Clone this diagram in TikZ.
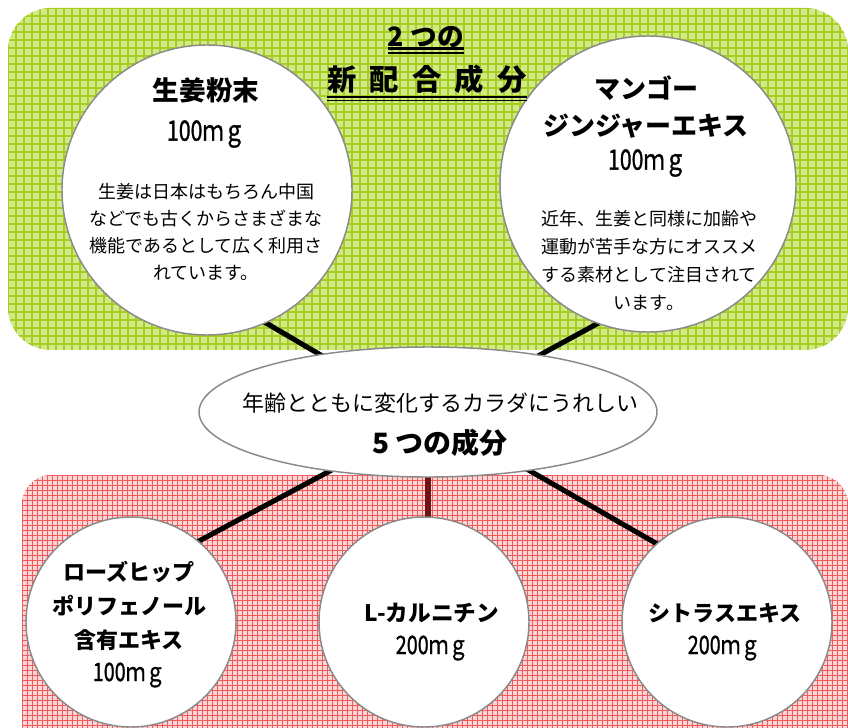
\documentclass[tikz,border=0pt]{standalone}
\usepackage{fontspec}
\setmainfont{Noto Sans CJK JP}
\newfontfamily\jpmid[FakeBold=1.3]{Noto Sans CJK JP}
\usepackage{graphicx}
\usetikzlibrary{shapes.geometric}
\pgfdeclarelayer{bg}
\pgfdeclarelayer{lines}
\pgfsetlayers{bg,lines,main}
\definecolor{grbase}{HTML}{D2E98A}
\definecolor{grline}{HTML}{A6CE22}
\definecolor{rdbase}{HTML}{FAD6D6}
\definecolor{rdline}{HTML}{F05A5A}
\definecolor{rimgray}{HTML}{8A8A8A}
\definecolor{darkred}{HTML}{6E1414}
\begin{document}
\begin{tikzpicture}[x=0.75pt,y=-0.75pt,
  bubble/.style={circle,draw=rimgray,line width=1.1pt,fill=white,inner sep=0pt},
  oval/.style={ellipse,draw=rimgray,line width=1.1pt,fill=white,inner sep=0pt},
  conn/.style={line width=3.8pt,black,shorten <=-4pt,shorten >=-4pt},
  txt/.style={inner sep=0pt,align=center,text=black},
  amount/.style={txt,font=\jpmid\fontsize{21}{21}\selectfont},
  uthick/.style={line width=2.2pt,black},
  uthin/.style={line width=1.2pt,black}]
\useasboundingbox (0,0) rectangle (848,727);

% shapes
\node[bubble,minimum size=217.5pt] (lc) at (207,190) {};
\node[bubble,minimum size=222pt] (rc) at (648,184) {};
\node[oval,minimum width=343.5pt,minimum height=97.5pt] (el) at (428,412) {};
\node[bubble,minimum size=157.5pt] (bl) at (131,622) {};
\node[bubble,minimum size=157.5pt] (bm) at (424,622) {};
\node[bubble,minimum size=157.5pt] (br) at (727,622) {};

% backgrounds
\begin{pgfonlayer}{bg}
  \begin{scope}
    \clip[rounded corners=32pt] (8,8) rectangle (848,350);
    \fill[grbase] (8,8) rectangle (848,350);
    \foreach \i in {0,...,105} \draw[grline,line width=0.85pt] (8+\i*8,8) -- (8+\i*8,350);
    \foreach \j in {0,...,43} \draw[grline,line width=0.85pt] (8,8+\j*8) -- (848,8+\j*8);
  \end{scope}
  \begin{scope}
    \clip (0,0) rectangle (848,727);
    \clip[rounded corners=22pt] (22,475) rectangle (848,790);
    \fill[rdbase] (22,475) rectangle (848,790);
    \foreach \i in {0,...,166} \draw[rdline,line width=0.7pt] (22+\i*5,475) -- (22+\i*5,790);
    \foreach \j in {0,...,63} \draw[rdline,line width=0.7pt] (22,475+\j*5) -- (848,475+\j*5);
  \end{scope}
\end{pgfonlayer}

% connectors
\begin{pgfonlayer}{lines}
  \draw[conn] (lc.-66) -- (el.152);
  \draw[conn] (rc.-110) -- (el.27);
  \draw[conn] (el.-149) -- (bl.50);
  \draw[conn] (el.-30) -- (br.132);
  \draw[conn,darkred] (el.south) -- (el.south |- bm.north);
\end{pgfonlayer}

% title
\node[txt,font=\bfseries\fontsize{20}{20}\selectfont] (t1) at (426,37) {2\hspace{5pt}つの};
\node[txt,font=\bfseries\fontsize{22}{22}\selectfont] (t2) at (427,79) {新\hspace{10pt}配\hspace{10pt}合\hspace{10pt}成\hspace{10pt}分};
\draw[uthick] ([yshift=-0.3pt]t1.south west) -- ([yshift=-0.3pt]t1.south east);
\draw[uthin] ([yshift=-3.8pt]t1.south west) -- ([yshift=-3.8pt]t1.south east);
\draw[uthick] ([yshift=-2.5pt]t2.south west) -- ([yshift=-2.5pt]t2.south east);
\draw[uthin] ([yshift=-5.2pt]t2.south west) -- ([yshift=-5.2pt]t2.south east);

% left top circle
\node[txt,font=\bfseries\fontsize{20}{20}\selectfont] (lt1) at (206,90) {生姜粉末};
\node[amount] (lt2) at (206,134) {\scalebox{0.76}[1]{100ｍｇ}};
\node[txt,font=\fontsize{13.5}{20.25}\selectfont] (lt3) at (206,232) {生姜は日本はもちろん中国\\などでも古くからさまざまな\\機能であるとして広く利用さ\\れています。};

% right top circle
\node[txt,font=\bfseries\fontsize{19.5}{27.75}\selectfont] (rt1) at (646,107.5) {マンゴー\\ジンジャーエキス};
\node[amount] (rt2) at (647,163) {\scalebox{0.76}[1]{100ｍｇ}};
\node[txt,font=\fontsize{13.5}{21}\selectfont] (rt3) at (649,260) {近年、生姜と同様に加齢や\\運動が苦手な方にオススメ\\する素材として注目されて\\います。};

% ellipse
\node[txt,font=\fontsize{16.5}{16.5}\selectfont] (e1) at (440,403) {年齢とともに変化するカラダにうれしい};
\node[txt,font=\bfseries\fontsize{21}{21}\selectfont] (e2) at (440,443) {5\hspace{4pt}つの成分};

% bottom circles
\node[txt,font=\bfseries\fontsize{16.5}{25.5}\selectfont] (b1) at (129,606) {ローズヒップ\\ポリフェノール\\含有エキス};
\node[amount,font=\jpmid\fontsize{19}{19}\selectfont] (b2) at (129,675) {\scalebox{0.78}[1]{100ｍｇ}};
\node[txt,font=\bfseries\fontsize{17}{17}\selectfont] (m1) at (432,613) {L-カルニチン};
\node[amount,font=\jpmid\fontsize{19}{19}\selectfont] (m2) at (432,648) {\scalebox{0.78}[1]{200ｍｇ}};
\node[txt,font=\bfseries\fontsize{16.5}{16.5}\selectfont] (r1) at (725,613) {シトラスエキス};
\node[amount,font=\jpmid\fontsize{19}{19}\selectfont] (r2) at (724,648) {\scalebox{0.78}[1]{200ｍｇ}};
\end{tikzpicture}
\end{document}
